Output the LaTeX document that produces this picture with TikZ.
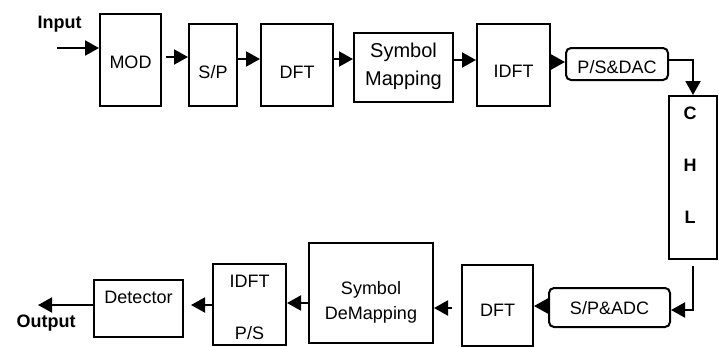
\documentclass[tikz,border=0pt]{standalone}
\usepackage{fontspec}
\setmainfont{Liberation Sans}
\usetikzlibrary{arrows.meta}
\begin{document}
\begin{tikzpicture}[x=1pt,y=-1pt,
  blk/.style={draw, line width=2pt, inner sep=0pt, minimum width=#1},
  rblk/.style={draw, line width=2pt, rounded corners=5pt, inner sep=0pt},
  txt/.style={inner sep=0pt, font=\fontsize{18}{22}\selectfont},
  btxt/.style={inner sep=0pt, font=\fontsize{18}{22}\selectfont\bfseries},
  arr/.style={line width=2pt, -{Triangle[length=14pt,width=15pt]}}]
\useasboundingbox (0,0) rectangle (719,346);

% transmitter chain
\node[blk=61pt, minimum height=92pt] (mod) at (130.5,60) {};
\node[txt] (modt) at (130.5,62) {MOD};
\node[blk=48pt, minimum height=82pt] (sp) at (213,65) {};
\node[txt] (spt) at (213,72) {S/P};
\node[blk=72pt, minimum height=82pt] (dft) at (297,65) {};
\node[txt] (dftt) at (297,72) {DFT};
\node[blk=99pt, minimum height=69pt] (map) at (403.5,67.5) {};
\node[txt, font=\fontsize{20}{28}\selectfont, align=center] (mapt) at (403.5,66) {Symbol\\Mapping};
\node[blk=73pt, minimum height=82pt] (idft) at (513.5,65) {};
\node[txt] (idftt) at (513.5,71) {IDFT};
\node[rblk, minimum width=102pt, minimum height=32pt] (psdac) at (617,64) {};
\node[txt] (psdact) at (617,67) {P/S\&DAC};

% channel
\node[blk=48pt, minimum height=163pt] (chl) at (693,177.5) {};
\node[btxt] (chlc) at (690,113) {C};
\node[btxt] (chlh) at (690,165) {H};
\node[btxt] (chll) at (690,217) {L};

% receiver chain
\node[rblk, minimum width=121pt, minimum height=39pt] (spadc) at (609.5,307.5) {};
\node[txt] (spadct) at (609.5,308) {S/P\&ADC};
\node[blk=71pt, minimum height=81pt] (rdft) at (497.5,305) {};
\node[txt] (rdftt) at (497.5,310) {DFT};
\node[blk=124pt, minimum height=100pt] (demap) at (371,293) {};
\node[txt, align=center, font=\fontsize{18}{25}\selectfont] (demapt) at (371,302.5) {Symbol\\DeMapping};
\node[blk=73pt, minimum height=81pt] (ridft) at (249.5,304.5) {};
\node[txt] (ridftt) at (249.5,281) {IDFT};
\node[txt] (rpst) at (249.5,333) {P/S};
\node[blk=89pt, minimum height=57pt] (det) at (138.5,308.5) {};
\node[txt] (dett) at (138.5,297) {Detector};

% labels and free ends
\node[btxt] (inlbl) at (59.5,24) {Input};
\node[btxt] (outlbl) at (46,323) {Output};
\coordinate (inp) at (57,48);
\coordinate (outp) at (38,305);

% connectors
\draw[arr] (inp) -- (inp -| mod.west);
\draw[arr] ([xshift=4pt]mod.east |- 0,57) -- (sp.west |- 0,57);
\draw[arr] (sp.east |- 0,59) -- (dft.west |- 0,59);
\draw[arr] (dft.east |- 0,59) -- (map.west |- 0,59);
\draw[arr] (map.east |- 0,60) -- (idft.west |- 0,60);
\draw[arr] (idft.east |- 0,62) -- (psdac.west |- 0,62);
\draw[arr] (psdac.east |- 0,60) -| (chl.north);
\draw[arr] ([yshift=-6pt]chl.south) |- (spadc.east |- 0,310);
\draw[arr] (spadc.west |- 0,306) -- (rdft.east |- 0,306);
\draw[arr] ([xshift=-9pt]rdft.west |- 0,308) -- (demap.east |- 0,308);
\draw[arr] (demap.west |- 0,303) -- (ridft.east |- 0,303);
\draw[arr] (ridft.west |- 0,305) -- ([xshift=7pt]det.east |- 0,305);
\draw[arr] (det.west |- outp) -- (outp);
\end{tikzpicture}
\end{document}
